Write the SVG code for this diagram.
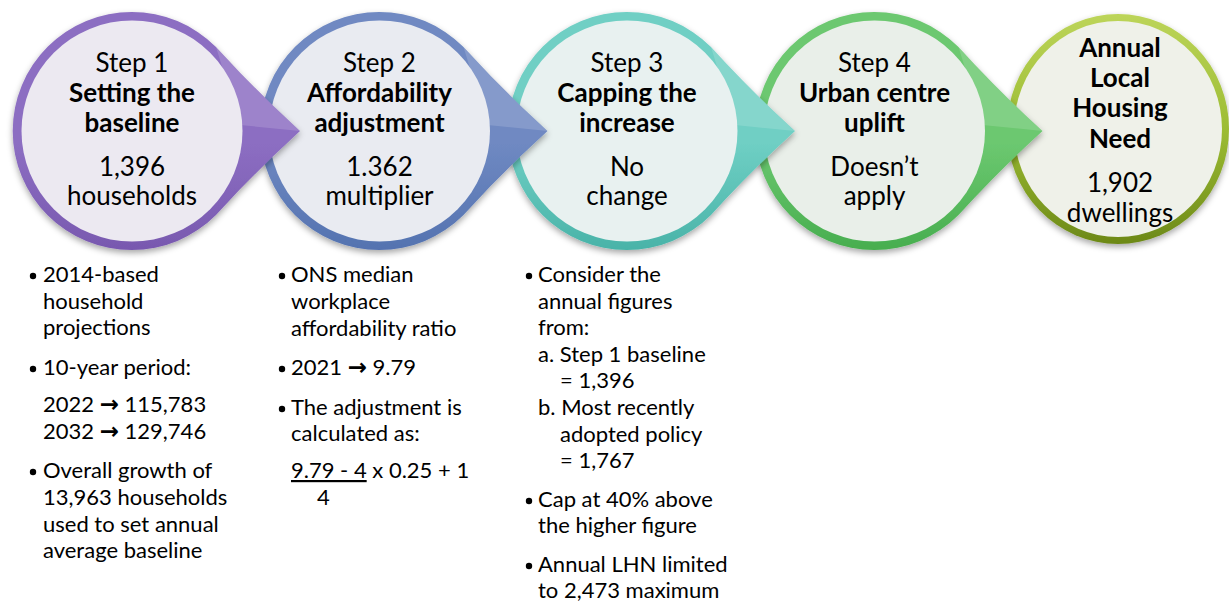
<svg xmlns="http://www.w3.org/2000/svg" width="1229" height="601" viewBox="0 0 1229 601">
<style>
.h{font-family:Lato,"Liberation Sans",sans-serif;font-size:26px;fill:#000;text-anchor:middle}
.b{font-weight:bold}
.t{font-family:Lato,"Liberation Sans",sans-serif;font-size:22px;fill:#000}
.ar{font-family:"DejaVu Sans",sans-serif;font-weight:bold;font-size:23px}
.dot{fill:#000}
</style>
<defs>
<filter id="sh" x="-20%" y="-20%" width="140%" height="150%">
<feDropShadow dx="0" dy="3" stdDeviation="3" flood-color="#000" flood-opacity="0.35"/>
</filter>
<path id="tear" d="M 84,-84 Q 123,-41 168,0 Q 123,41 84,84 A 119 119 0 1 1 84,-84 Z"/>
<path id="hl" d="M 84,-84 Q 123,-41 168,0 L 108,-6 Z"/>
<linearGradient id="gP" gradientUnits="userSpaceOnUse" x1="0" y1="12" x2="0" y2="250">
<stop offset="0" stop-color="#8c6ec2"/><stop offset="0.5" stop-color="#7656ad"/><stop offset="1" stop-color="#472a75"/></linearGradient>
<linearGradient id="gB" gradientUnits="userSpaceOnUse" x1="0" y1="12" x2="0" y2="250">
<stop offset="0" stop-color="#6f89c2"/><stop offset="0.5" stop-color="#5170ae"/><stop offset="1" stop-color="#2b4374"/></linearGradient>
<linearGradient id="gT" gradientUnits="userSpaceOnUse" x1="0" y1="12" x2="0" y2="250">
<stop offset="0" stop-color="#6fcfc4"/><stop offset="0.5" stop-color="#45b0a5"/><stop offset="1" stop-color="#1d6a63"/></linearGradient>
<linearGradient id="gG" gradientUnits="userSpaceOnUse" x1="0" y1="12" x2="0" y2="250">
<stop offset="0" stop-color="#6cc870"/><stop offset="0.5" stop-color="#43ab4b"/><stop offset="1" stop-color="#226e2a"/></linearGradient>
<linearGradient id="gY" gradientUnits="userSpaceOnUse" x1="0" y1="12" x2="0" y2="250">
<stop offset="0" stop-color="#bdd55a"/><stop offset="0.5" stop-color="#9cbc33"/><stop offset="1" stop-color="#6a8616"/></linearGradient>
</defs>

<g id="connectors"/>

<g id="node5">
<ellipse cx="1118" cy="129" rx="111" ry="115" fill="url(#gY)" filter="url(#sh)"/>
<ellipse cx="1118" cy="129" rx="104" ry="108" fill="#eff1e9"/>
<text class="h b" x="1120" y="57">Annual</text>
<text class="h b" x="1120" y="87">Local</text>
<text class="h b" x="1120" y="117">Housing</text>
<text class="h b" x="1120" y="148">Need</text>
<text class="h" x="1120" y="192">1,902</text>
<text class="h" x="1120" y="222">dwellings</text>
</g>

<g id="node4">
<use href="#tear" transform="translate(874.5,131)" fill="url(#gG)" filter="url(#sh)"/>
<use href="#hl" transform="translate(874.5,131)" fill="#fff" opacity="0.15"/>
<circle cx="874.5" cy="131" r="110.5" fill="#e9efe9"/>
<text class="h" x="874.5" y="72">Step 4</text>
<text class="h b" x="874.5" y="102">Urban centre</text>
<text class="h b" x="874.5" y="132">uplift</text>
<text class="h" x="874.5" y="176">Doesn’t</text>
<text class="h" x="874.5" y="205">apply</text>
</g>

<g id="node3">
<use href="#tear" transform="translate(627,131)" fill="url(#gT)" filter="url(#sh)"/>
<use href="#hl" transform="translate(627,131)" fill="#fff" opacity="0.15"/>
<circle cx="627" cy="131" r="110.5" fill="#e8f1f0"/>
<text class="h" x="627" y="72">Step 3</text>
<text class="h b" x="627" y="102">Capping the</text>
<text class="h b" x="627" y="132">increase</text>
<text class="h" x="627" y="176">No</text>
<text class="h" x="627" y="205">change</text>
</g>

<g id="node2">
<use href="#tear" transform="translate(379.5,131)" fill="url(#gB)" filter="url(#sh)"/>
<use href="#hl" transform="translate(379.5,131)" fill="#fff" opacity="0.15"/>
<circle cx="379.5" cy="131" r="110.5" fill="#e9ebf1"/>
<text class="h" x="379.5" y="72">Step 2</text>
<text class="h b" x="379.5" y="102">Affordability</text>
<text class="h b" x="379.5" y="132">adjustment</text>
<text class="h" x="379.5" y="176">1.362</text>
<text class="h" x="379.5" y="205">multiplier</text>
</g>

<g id="node1">
<use href="#tear" transform="translate(132,131)" fill="url(#gP)" filter="url(#sh)"/>
<use href="#hl" transform="translate(132,131)" fill="#fff" opacity="0.15"/>
<circle cx="132" cy="131" r="110.5" fill="#ece9f1"/>
<text class="h" x="132" y="72">Step 1</text>
<text class="h b" x="132" y="102">Setting the</text>
<text class="h b" x="132" y="132">baseline</text>
<text class="h" x="132" y="176">1,396</text>
<text class="h" x="132" y="205">households</text>
</g>

<g id="list1">
<circle class="dot" cx="33" cy="276" r="3.2"/>
<text class="t" x="43" y="282">2014-based</text>
<text class="t" x="43" y="309">household</text>
<text class="t" x="43" y="335">projections</text>
<circle class="dot" cx="33" cy="369" r="3.2"/>
<text class="t" x="43" y="375">10-year period:</text>
<text class="t" x="43" y="412">2022 <tspan class="ar">→</tspan> 115,783</text>
<text class="t" x="43" y="439">2032 <tspan class="ar">→</tspan> 129,746</text>
<circle class="dot" cx="33" cy="472" r="3.2"/>
<text class="t" x="43" y="478">Overall growth of</text>
<text class="t" x="43" y="505">13,963 households</text>
<text class="t" x="43" y="532">used to set annual</text>
<text class="t" x="43" y="558">average baseline</text>
</g>

<g id="list2">
<circle class="dot" cx="282" cy="276" r="3.2"/>
<text class="t" x="291" y="282">ONS median</text>
<text class="t" x="291" y="309">workplace</text>
<text class="t" x="291" y="336">affordability ratio</text>
<circle class="dot" cx="282" cy="369" r="3.2"/>
<text class="t" x="291" y="375">2021 <tspan class="ar">→</tspan> 9.79</text>
<circle class="dot" cx="282" cy="409" r="3.2"/>
<text class="t" x="291" y="415">The adjustment is</text>
<text class="t" x="291" y="441">calculated as:</text>
<text class="t" x="291" y="478"><tspan text-decoration="underline">9.79 - 4</tspan> x 0.25 + 1</text>
<text class="t" x="317" y="505">4</text>
</g>

<g id="list3">
<circle class="dot" cx="529" cy="276" r="3.2"/>
<text class="t" x="538" y="282">Consider the</text>
<text class="t" x="538" y="309">annual figures</text>
<text class="t" x="538" y="335">from:</text>
<text class="t" x="538" y="362">a. Step 1 baseline</text>
<text class="t" x="560" y="388">= 1,396</text>
<text class="t" x="538" y="415">b. Most recently</text>
<text class="t" x="560" y="442">adopted policy</text>
<text class="t" x="560" y="468">= 1,767</text>
<circle class="dot" cx="529" cy="501" r="3.2"/>
<text class="t" x="538" y="507">Cap at 40% above</text>
<text class="t" x="538" y="533">the higher figure</text>
<circle class="dot" cx="529" cy="566" r="3.2"/>
<text class="t" x="538" y="572">Annual LHN limited</text>
<text class="t" x="538" y="598">to 2,473 maximum</text>
</g>
</svg>
